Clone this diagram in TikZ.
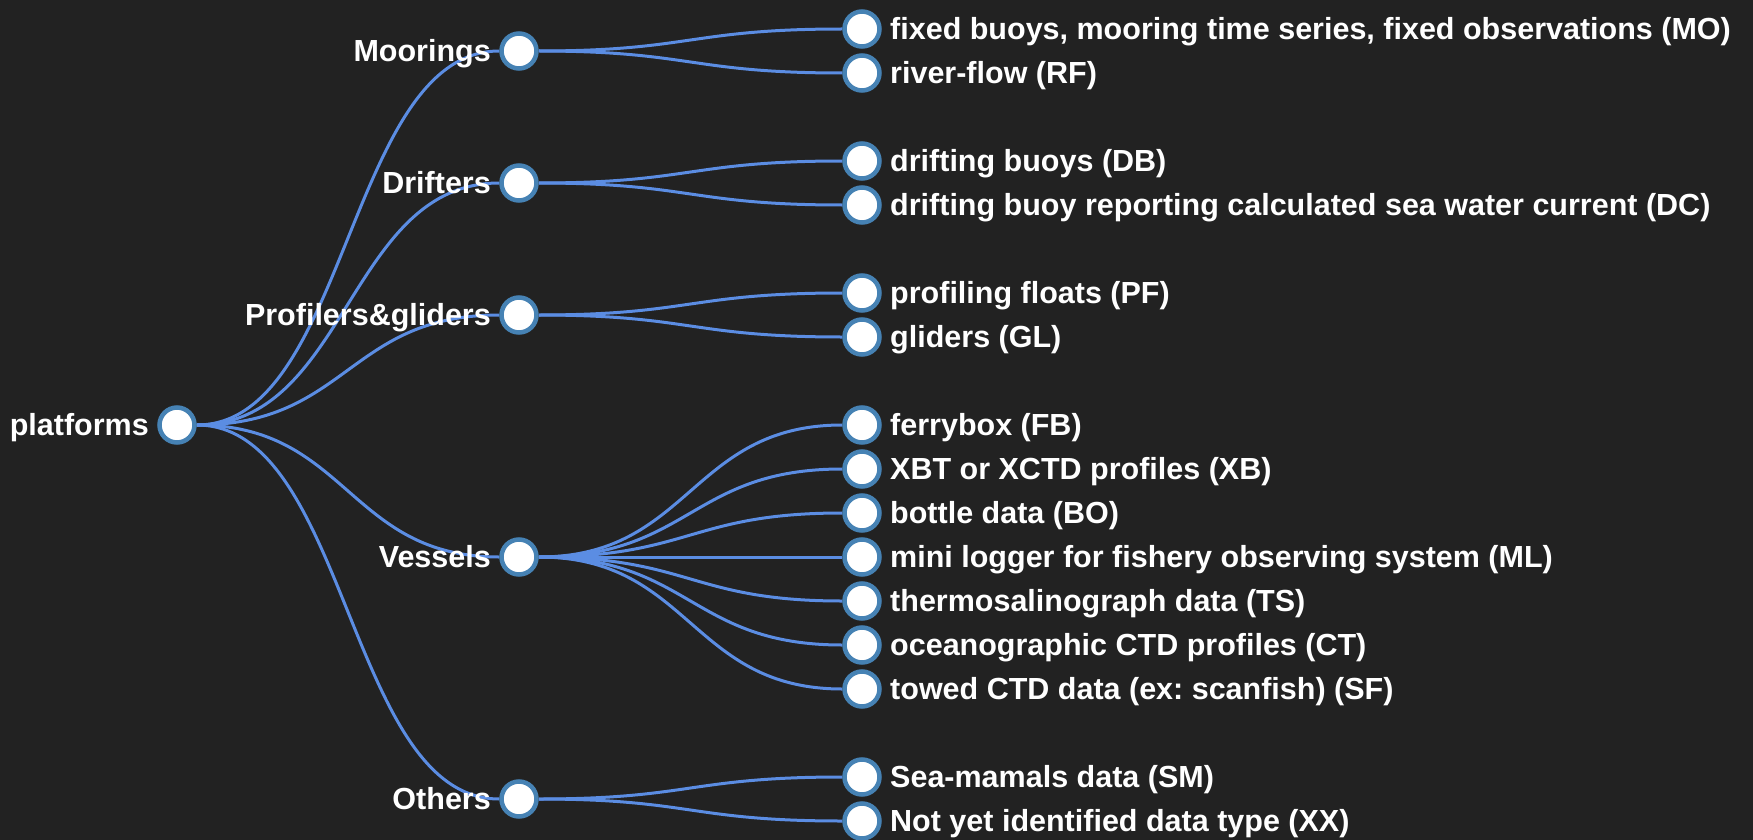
\documentclass[tikz,border=0pt]{standalone}
\usepackage{fontspec}
\setmainfont{Liberation Sans}
\frenchspacing
\pgfdeclarelayer{bg}
\pgfdeclarelayer{links}
\pgfsetlayers{bg,links,main}
\definecolor{bgdark}{HTML}{222222}
\definecolor{linkblue}{HTML}{5B8DE3}
\definecolor{ringblue}{HTML}{4682B4}
\begin{document}
\begin{tikzpicture}[x=1pt,y=-1pt,
  dot/.style={circle,draw=ringblue,line width=4.5pt,fill=white,minimum size=35pt,inner sep=0pt},
  rlbl/.style={anchor=base west,text=white,inner sep=0pt,font=\bfseries\fontsize{30.5}{36}\selectfont},
  llbl/.style={anchor=base east,text=white,inner sep=0pt,font=\bfseries\fontsize{30.5}{36}\selectfont},
  link/.style={draw=linkblue,line width=3pt}]
  \useasboundingbox (0,0) rectangle (1753,840);
  \begin{pgfonlayer}{bg}
    \fill[bgdark] (0,0) rectangle (1753,840);
  \end{pgfonlayer}
  % root
  \node[dot] (root) at (177,425) {};
  \node[llbl] (root-t) at ([xshift=-28pt,yshift=-10.5pt]root.center) {platforms};
  % platform groups
  \foreach \n/\y/\t in {moor/51/Moorings, drif/183/Drifters, prof/315/{Profilers\&gliders},
      vess/557/Vessels, othr/799/Others}{
    \node[dot] (\n) at (519,\y) {};
    \node[llbl] (\n-t) at ([xshift=-28pt,yshift=-10.5pt]\n.center) {\t};
  }
  % data types
  \foreach \n/\y/\t in {
      mo/29/{fixed buoys, mooring time series, fixed observations (MO)},
      rf/73/{river-flow (RF)},
      db/161/{drifting buoys (DB)},
      dc/205/{drifting buoy reporting calculated sea water current (DC)},
      pf/293/{profiling floats (PF)},
      gl/337/{gliders (GL)},
      fb/425/{ferrybox (FB)},
      xb/469/{XBT or XCTD profiles (XB)},
      bo/513/{bottle data (BO)},
      ml/557/{mini logger for fishery observing system (ML)},
      ts/601/{thermosalinograph data (TS)},
      ct/645/{oceanographic CTD profiles (CT)},
      sf/689/{towed CTD data (ex: scanfish) (SF)},
      sm/777/{Sea-mamals data (SM)},
      xx/821/{Not yet identified data type (XX)}}{
    \node[dot] (\n) at (862,\y) {};
    \node[rlbl] (\n-t) at ([xshift=28pt,yshift=-10.5pt]\n.center) {\t};
  }
  \begin{pgfonlayer}{links}
    \foreach \c in {moor,drif,prof,vess,othr}
      \draw[link] (root) .. controls +(171,0) and +(-171,0) .. (\c);
    \foreach \p/\c in {moor/mo, moor/rf, drif/db, drif/dc, prof/pf, prof/gl,
        vess/fb, vess/xb, vess/bo, vess/ml, vess/ts, vess/ct, vess/sf, othr/sm, othr/xx}
      \draw[link] (\p) .. controls +(171.5,0) and +(-171.5,0) .. (\c);
  \end{pgfonlayer}
\end{tikzpicture}
\end{document}
